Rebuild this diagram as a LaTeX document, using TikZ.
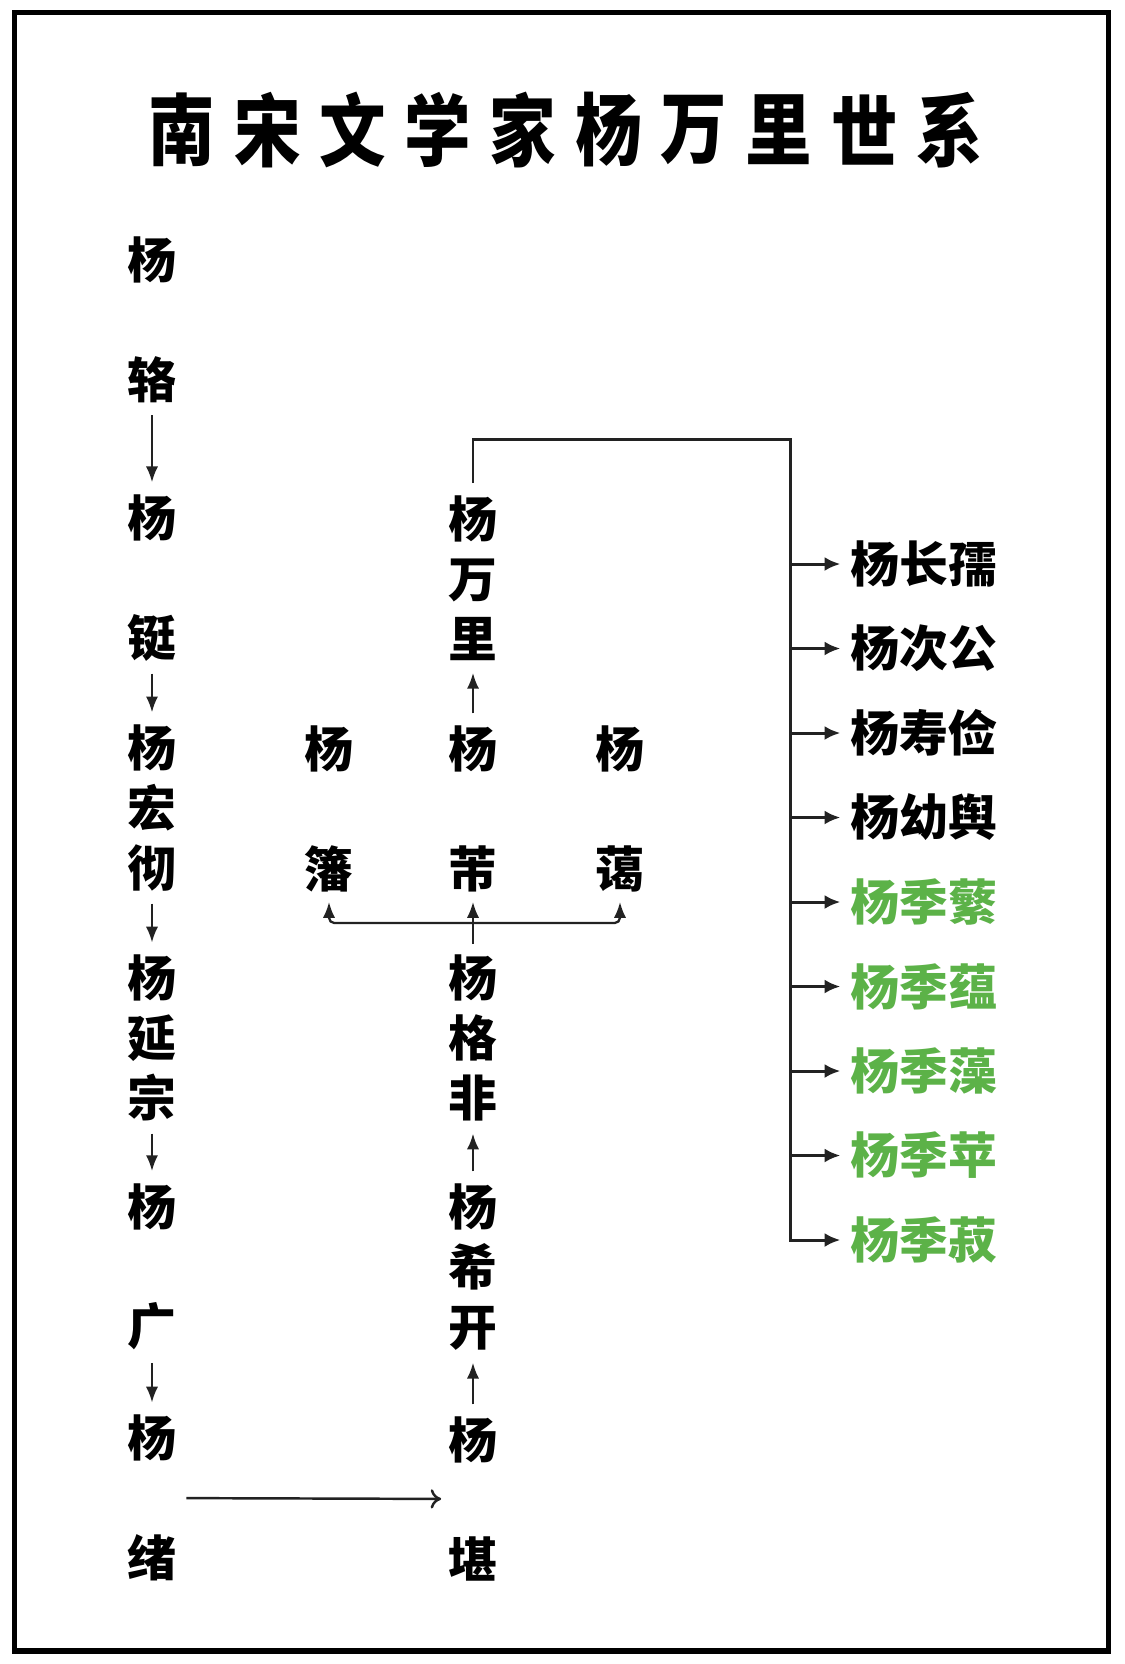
\documentclass[tikz,border=0pt]{standalone}
\usepackage{fontspec}
\newfontfamily\cjk{Noto Sans CJK SC}
\usetikzlibrary{arrows.meta}
\definecolor{kidgreen}{RGB}{92,178,72}
\definecolor{linegray}{RGB}{34,34,34}
\tikzset{
  person/.style={inner sep=0pt, align=center, font=\cjk\bfseries\fontsize{27.8pt}{34pt}\selectfont},
  kid/.style={person, anchor=west},
  titlechar/.style={inner sep=0pt, font=\cjk\bfseries\fontsize{44pt}{44pt}\selectfont},
  arr/.style={draw=linegray, line width=1.3pt, -{Latex[length=9pt,width=7pt]}, shorten <=7pt, shorten >=7pt},
  tree/.style={draw=linegray, line width=1.7pt},
  branch/.style={tree, -{Latex[length=9pt,width=8pt]}, shorten >=5.5pt},
  openarr/.style={draw=linegray, line width=1.4pt, -{To[length=6pt,width=11pt]}, shorten <=5.5pt, shorten >=4pt},
}

\begin{document}
\begin{tikzpicture}[x=0.02cm, y=-0.02cm] % 1px = 0.02cm
  \useasboundingbox (0,0) rectangle (1125,1664);
  \draw[line width=3.4pt] (14.5,12.5) rectangle (1108.5,1650.5);

  % title
  \foreach \ch [count=\i from 0] in {南,宋,文,学,家,杨,万,里,世,系}
    \node[titlechar] (t\i) at (182+85.3*\i,130) {\scalebox{0.86}[1.02]{\ch}};

  % left line
  \node[person] (L0) at (152,320) {杨\\\mbox{}\\辂};
  \node[person] (L1) at (152,578) {杨\\\mbox{}\\铤};
  \node[person] (L2) at (152,808) {杨\\宏\\彻};
  \node[person] (L3) at (152,1038) {杨\\延\\宗};
  \node[person] (L4) at (152,1267) {杨\\\mbox{}\\广};
  \node[person] (L5) at (152,1498) {杨\\\mbox{}\\绪};

  % middle line
  \node[person] (M1) at (473,578) {杨\\万\\里};
  \node[person] (M2) at (473,809) {杨\\\mbox{}\\芾};
  \node[person] (S1) at (329,809) {杨\\\mbox{}\\籓};
  \node[person] (S2) at (620,809) {杨\\\mbox{}\\蔼};
  \node[person] (M3) at (473,1038) {杨\\格\\非};
  \node[person] (M4) at (473,1267) {杨\\希\\开};
  \node[person] (M5) at (473,1499) {杨\\\mbox{}\\堪};

  % sons
  \foreach \nm/\col [count=\i] in {长孺/black, 次公/black, 寿俭/black, 幼舆/black,
      季蘩/kidgreen, 季蕴/kidgreen, 季藻/kidgreen, 季苹/kidgreen, 季菽/kidgreen}
    \node[kid, text=\col] (c\i) at (850,479.5+84.5*\i) {杨\nm};

  \draw[arr] (L0) -- (L1);
  \draw[arr] (L1) -- (L2);
  \draw[arr] (L2) -- (L3);
  \draw[arr] (L3) -- (L4);
  \draw[arr] (L4) -- (L5);
  \draw[openarr] (L5) -- (M5);
  \draw[arr] (M5) -- (M4);
  \draw[arr] (M4) -- (M3);
  \draw[arr] (M2) -- (M1);

  \coordinate (fork) at (473,923);
  \draw[tree, line width=1.3pt, shorten <=6pt] (M3) -- (fork);
  \draw[arr, shorten <=0pt, shorten >=5.5pt] (fork) -- (M2);
  \draw[arr, shorten <=0pt, shorten >=5.5pt, rounded corners=3pt] (fork) -| (S1);
  \draw[arr, shorten <=0pt, shorten >=5.5pt, rounded corners=3pt] (fork) -| (S2);

  \coordinate (top) at (790,439);
  \draw[branch, shorten <=7pt] (M1) |- (top) |- (c9);
  \foreach \i in {1,...,8}
    \draw[branch] (top |- c\i) -- (c\i);
\end{tikzpicture}
\end{document}
